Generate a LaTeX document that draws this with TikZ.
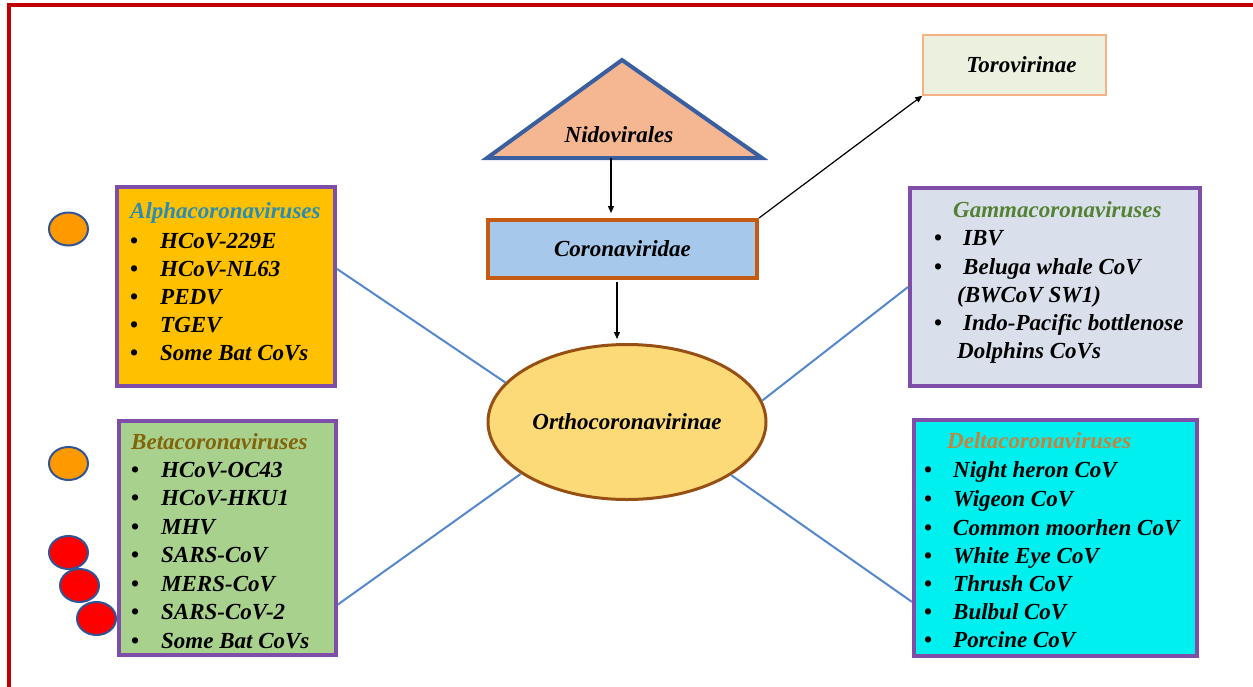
\documentclass[tikz,border=0pt]{standalone}
\usepackage{fontspec}
\setmainfont{Liberation Serif}
\usetikzlibrary{shapes.geometric,arrows.meta}
\definecolor{frame}{RGB}{192,0,0}
\definecolor{purp}{RGB}{126,78,168}
\definecolor{alphafill}{RGB}{255,192,0}
\definecolor{alphatitle}{RGB}{40,140,180}
\definecolor{betafill}{RGB}{169,209,142}
\definecolor{betatitle}{RGB}{130,100,10}
\definecolor{gammafill}{RGB}{218,224,235}
\definecolor{gammatitle}{RGB}{84,130,53}
\definecolor{deltafill}{RGB}{0,240,240}
\definecolor{deltatitle}{RGB}{196,132,60}
\definecolor{trifill}{RGB}{244,183,145}
\definecolor{triborder}{RGB}{58,95,160}
\definecolor{corofill}{RGB}{165,200,235}
\definecolor{coroborder}{RGB}{197,90,17}
\definecolor{orthofill}{RGB}{253,218,120}
\definecolor{orthoborder}{RGB}{150,80,20}
\definecolor{torofill}{RGB}{235,241,222}
\definecolor{toroborder}{RGB}{244,177,131}
\definecolor{linkblue}{RGB}{85,135,205}
\definecolor{dotorange}{RGB}{255,153,0}
\definecolor{dotred}{RGB}{255,0,0}
\definecolor{dotborder}{RGB}{47,85,151}
\newcommand{\cvfont}{\fontsize{23}{28}\selectfont\bfseries\itshape}
\newcommand{\cvbul}{\makebox[30pt][l]{\upshape\textbullet}}
\begin{document}
\begin{tikzpicture}[x=1pt,y=-1pt,
  groupbox/.style={draw=purp, line width=4pt, inner sep=0pt, minimum width=#1},
  item/.style={anchor=base west, inner sep=0pt, font=\cvfont},
  title/.style={anchor=base west, inner sep=0pt, font=\cvfont, text=#1},
  link/.style={draw=linkblue, line width=2pt},
  arr/.style={draw=black, line width=1.2pt, -{Triangle[length=7pt,width=6pt]}},
  dot/.style={ellipse, draw=dotborder, line width=2pt, minimum width=39pt, minimum height=33pt, inner sep=0pt, fill=#1}
]
\useasboundingbox (0,0) rectangle (1253,686);
% outer frame
\draw[frame, line width=4pt] (1260,5) -- (9,5) -- (9,700);

% Nidovirales triangle
\coordinate (triL) at (487,158);
\coordinate (triA) at (622,60);
\coordinate (triR) at (762,158);
\coordinate (nidobase) at (611,158);
\draw[fill=trifill, draw=triborder, line width=4pt, line join=miter] (triL) -- (triA) -- (triR) -- cycle;
\node[anchor=base, inner sep=0pt, font=\cvfont] (nido) at (619,142) {Nidovirales};

% Coronaviridae
\node[draw=coroborder, fill=corofill, line width=4pt, minimum width=269pt, minimum height=58pt, inner sep=0pt, font=\cvfont] (corona) at (622.5,249) {Coronaviridae};

% Orthocoronavirinae
\node[ellipse, draw=orthoborder, fill=orthofill, line width=3pt, minimum width=278pt, minimum height=155pt, inner sep=0pt, font=\cvfont] (ortho) at (627,422) {Orthocoronavirinae};

% Torovirinae
\node[draw=toroborder, fill=torofill, line width=1.5pt, minimum width=183pt, minimum height=60pt, inner sep=0pt, font=\cvfont] (toro) at (1014.5,65) {\hspace*{14pt}Torovirinae};

% arrows
\draw[arr, shorten >=5pt] (nidobase) -- (nidobase |- corona.north);
\coordinate (corobot) at (617,279);
\draw[arr, shorten <=3pt, shorten >=4pt] (corobot) -- (corobot |- ortho.north);
\draw[arr] (corona.north east) -- (toro.south west);

% group boxes
\node[groupbox=218pt, fill=alphafill, minimum height=199pt] (alpha) at (226,286.5) {};
\node[groupbox=217pt, fill=betafill, minimum height=234pt] (beta) at (227.5,538) {};
\node[groupbox=290pt, fill=gammafill, minimum height=198pt] (gamma) at (1055,287) {};
\node[groupbox=283pt, fill=deltafill, minimum height=236pt] (delta) at (1055.5,538) {};

% links
\draw[link] (alpha.9) -- (ortho.162.7);
\draw[link] (beta.-31) -- (ortho.206.6);
\draw[link] (gamma.west) -- (ortho.9.4);
\draw[link] (delta.204.8) -- (ortho.333.4);

% Alpha text
\node[title=alphatitle] (at) at (130,218) {Alphacoronaviruses};
\node[item] (a1) at (130,248) {\cvbul HCoV-229E};
\node[item] (a2) at (130,276) {\cvbul HCoV-NL63};
\node[item] (a3) at (130,304) {\cvbul PEDV};
\node[item] (a4) at (130,332) {\cvbul TGEV};
\node[item] (a5) at (130,360) {\cvbul Some Bat CoVs};

% Beta text
\node[title=betatitle] (bt) at (131,449) {Betacoronaviruses};
\node[item] (b1) at (131,477) {\cvbul HCoV-OC43};
\node[item] (b2) at (131,505.5) {\cvbul HCoV-HKU1};
\node[item] (b3) at (131,534) {\cvbul MHV};
\node[item] (b4) at (131,562.5) {\cvbul SARS-CoV};
\node[item] (b5) at (131,591) {\cvbul MERS-CoV};
\node[item] (b6) at (131,619.5) {\cvbul SARS-CoV-2};
\node[item] (b7) at (131,648) {\cvbul Some Bat CoVs};

% Gamma text
\node[title=gammatitle] (gt) at (953,217) {Gammacoronaviruses};
\node[item] (g1) at (934,245) {\makebox[29pt][l]{\upshape\textbullet}IBV};
\node[item] (g2) at (934,274) {\makebox[29pt][l]{\upshape\textbullet}Beluga whale CoV};
\node[item] (g3) at (957,302) {(BWCoV SW1)};
\node[item] (g4) at (934,330) {\makebox[29pt][l]{\upshape\textbullet}Indo-Pacific bottlenose};
\node[item] (g5) at (957,358) {Dolphins CoVs};

% Delta text
\node[title=deltatitle] (dt) at (947,448) {Deltacoronaviruses};
\node[item] (d1) at (924,477) {\makebox[29pt][l]{\upshape\textbullet}Night heron CoV};
\node[item] (d2) at (924,506) {\makebox[29pt][l]{\upshape\textbullet}Wigeon CoV};
\node[item] (d3) at (924,535) {\makebox[29pt][l]{\upshape\textbullet}Common moorhen CoV};
\node[item] (d4) at (924,563) {\makebox[29pt][l]{\upshape\textbullet}White Eye CoV};
\node[item] (d5) at (924,591) {\makebox[29pt][l]{\upshape\textbullet}Thrush CoV};
\node[item] (d6) at (924,619) {\makebox[29pt][l]{\upshape\textbullet}Bulbul CoV};
\node[item] (d7) at (924,647) {\makebox[29pt][l]{\upshape\textbullet}Porcine CoV};

% marker dots
\node[dot=dotorange] (o1) at (68.5,229) {};
\node[dot=dotorange] (o2) at (68.5,463.5) {};
\node[dot=dotred] (r1) at (68.5,552.5) {};
\node[dot=dotred] (r2) at (79.5,585.5) {};
\node[dot=dotred] (r3) at (96.5,618.5) {};
\end{tikzpicture}
\end{document}
